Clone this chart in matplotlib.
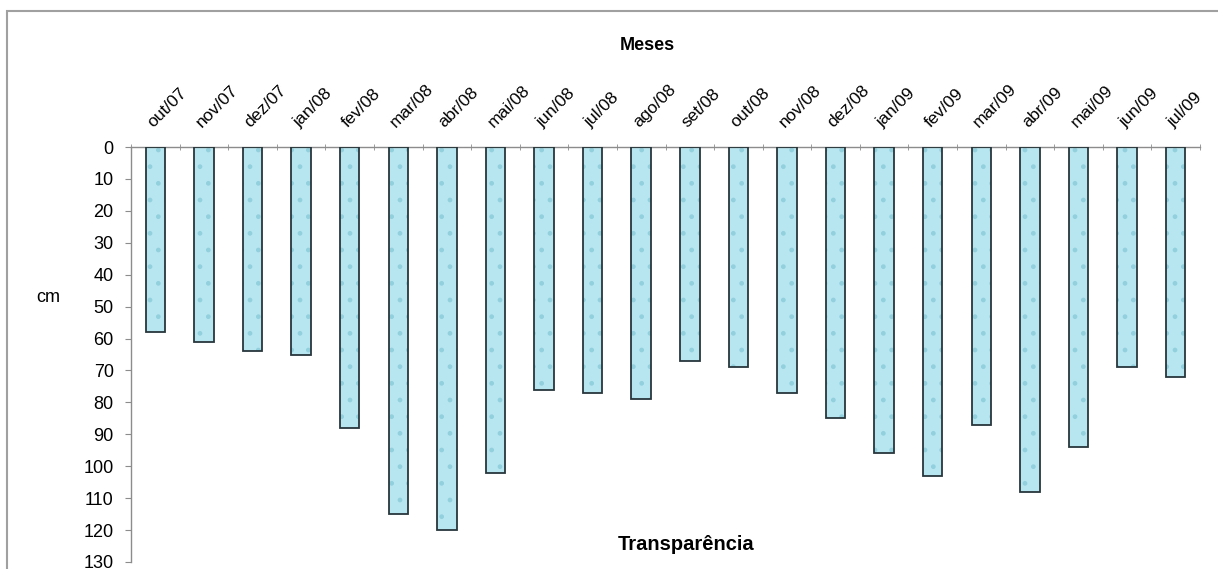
import numpy as np
import matplotlib.pyplot as plt
from matplotlib.patches import Rectangle

# Monthly water transparency (cm), Oct/2007 - Jul/2009
months = ['out/07', 'nov/07', 'dez/07', 'jan/08', 'fev/08', 'mar/08', 'abr/08',
          'mai/08', 'jun/08', 'jul/08', 'ago/08', 'set/08', 'out/08', 'nov/08',
          'dez/08', 'jan/09', 'fev/09', 'mar/09', 'abr/09', 'mai/09', 'jun/09',
          'jul/09']
transparency = [58, 61, 64, 65, 88, 115, 120, 102, 76, 77, 79, 67, 69, 77,
                85, 96, 103, 87, 108, 94, 69, 72]
y_ticks = list(range(0, 131, 10))

plt.rcParams['font.family'] = ['Liberation Sans', 'DejaVu Sans']

fig = plt.figure(figsize=(12.18, 5.69), dpi=100)
ax = fig.add_axes([131 / 1218, 1 - 562 / 569, (1200 - 131) / 1218, (562 - 147) / 569])

x = np.arange(len(months))

# Bars with a light droplet-like texture and dark outline
ax.bar(x, transparency, width=0.4, color='#b8e6f0', edgecolor='#92d0de',
       linewidth=0, hatch='.', zorder=2)
ax.bar(x, transparency, width=0.4, fill=False, edgecolor='#27363b',
       linewidth=1.3, zorder=3)

ax.set_ylim(130, 0)
ax.set_xlim(-0.5, len(months) - 0.5)
ax.set_yticks(y_ticks)
ax.tick_params(axis='y', labelsize=13, length=4.5, color='#8c8c8c', pad=8)

# Category labels on top, ticks at category boundaries
ax.xaxis.tick_top()
ax.set_xticks(x)
ax.set_xticklabels(months, rotation=45, ha='left', rotation_mode='anchor',
                   fontsize=12.5)
ax.tick_params(axis='x', which='major', length=0, pad=12)
ax.set_xticks(np.arange(-0.5, len(months)), minor=True)
ax.tick_params(axis='x', which='minor', top=True, bottom=False, length=4,
               direction='inout', color='#8c8c8c')

for side in ['right', 'bottom']:
    ax.spines[side].set_visible(False)
for side in ['left', 'top']:
    ax.spines[side].set_color('#8c8c8c')
    ax.spines[side].set_linewidth(1.0)

# Titles and axis label
fig.text(647 / 1218, 1 - 45 / 569, 'Meses', ha='center', va='center',
         fontsize=13, fontweight='bold')
fig.text(686 / 1218, 1 - 545 / 569, 'Transparência', ha='center', va='center',
         fontsize=14.5, fontweight='bold')
fig.text(48 / 1218, 1 - 298 / 569, 'cm', ha='center', va='center', fontsize=13)

# Outer frame (cut off at right and bottom)
fig.patches.append(Rectangle((7 / 1218, -0.1), 1.2, 1 - 11 / 569 + 0.1,
                             transform=fig.transFigure, fill=False,
                             edgecolor='#a0a0a0', linewidth=1.5))

fig.savefig('out.png', dpi=100)
